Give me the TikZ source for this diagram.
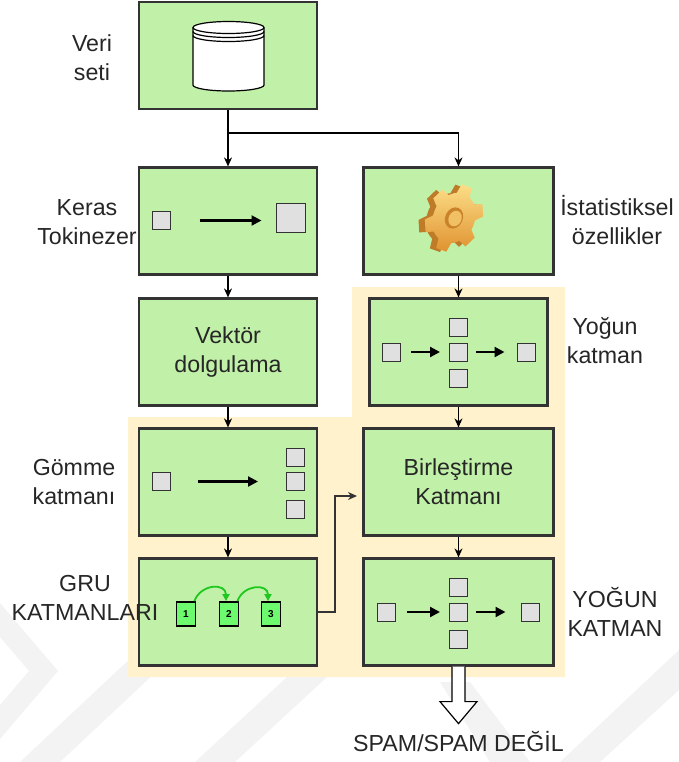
\documentclass[tikz,border=0pt]{standalone}
\usepackage{fontspec}
\setmainfont{Liberation Sans}
\usetikzlibrary{arrows.meta}

\definecolor{stagegreen}{RGB}{193,241,168}
\definecolor{panelorange}{RGB}{255,242,204}
\definecolor{cellgray}{RGB}{224,224,224}
\definecolor{grugreen}{RGB}{110,250,110}
\definecolor{hopgreen}{RGB}{30,200,30}
\definecolor{gearlight}{RGB}{252,222,135}
\definecolor{geardark}{RGB}{224,146,48}
\definecolor{inkgray}{RGB}{51,51,51}
\definecolor{markgray}{RGB}{243,243,243}

% gear outline, six teeth
\newcommand{\gearoutline}{(0:26) \foreach \a in {0,60,...,300} {-- (\a+7:26) -- (\a+15:35) -- (\a+37:35) -- (\a+45:26) -- (\a+60:26)} -- cycle}

\tikzset{
  stage/.style={draw=inkgray, line width=1.1pt, fill=stagegreen, minimum width=89pt, minimum height=53.5pt, inner sep=0pt},
  wide/.style={minimum width=95pt},
  cell/.style={draw=inkgray, line width=0.5pt, fill=cellgray, minimum size=9pt, inner sep=0pt},
  grucell/.style={draw=black, line width=0.9pt, fill=grugreen, minimum width=9.5pt, minimum height=12pt, inner sep=0pt, font=\fontsize{5}{5}\selectfont\bfseries},
  flow/.style={-{Stealth[length=4.5pt,width=4pt]}, line width=0.6pt},
  push/.style={-{Triangle[length=5pt,width=5pt]}, line width=1.1pt},
  hop/.style={-{Triangle[length=3.5pt,width=3.5pt]}, line width=0.9pt, draw=hopgreen},
  lbl/.style={align=center, text=black!85, font=\fontsize{11.6}{14.5}\selectfont}
}

\begin{document}
\begin{tikzpicture}[x=0.5pt,y=-0.5pt]
\useasboundingbox (0,0) rectangle (679,762);

% faint background mark
\fill[markgray] (0,603) -- (58,671) -- (0,739) -- (0,705) -- (29,671) -- (0,637) -- cycle;
\fill[markgray] (20,762) -- (150,640) -- (190,640) -- (60,762) -- cycle;
\fill[markgray] (195,762) -- (300,665) -- (340,665) -- (235,762) -- cycle;
\fill[markgray] (560,762) -- (679,650) -- (679,690) -- (600,762) -- cycle;
\fill[markgray] (440,682) -- (470,682) -- (530,762) -- (490,762) -- cycle;

% shaded panel behind the trainable layers
\fill[panelorange] (128,417) -- (352,417) -- (352,287) -- (565,287) -- (565,677) -- (128,677) -- cycle;

% stages
\node[stage] (veri) at (228,55.5) {};
\node[stage] (keras) at (228,221) {};
\node[stage, lbl] (vektor) at (228,352) {Vektör\\dolgulama};
\node[stage] (gomme) at (228,482) {};
\node[stage] (gru) at (228,612) {};
\node[stage, wide] (stat) at (458.5,221) {};
\node[stage] (yogun) at (458.5,352) {};
\node[stage, wide, lbl] (birles) at (458.5,482) {Birleştirme\\Katmanı};
\node[stage, wide] (cikis) at (458.5,612) {};

% side labels
\node[lbl] (veritxt) at (92,58) {Veri\\seti};
\node[lbl] (kerastxt) at (87,222) {Keras\\Tokinezer};
\node[lbl] (gommetxt) at (74,482) {Gömme\\katmanı};
\node[lbl] (grutxt) at (85,598) {GRU\\KATMANLARI};
\node[lbl] (stattxt) at (617,220) {İstatistiksel\\özellikler};
\node[lbl] (yoguntxt) at (605,341) {Yoğun\\katman};
\node[lbl] (cikistxt) at (615,612) {YOĞUN\\KATMAN};

% data set cylinder
\fill[white] (193,27.5) -- (193,85) arc(180:0:35.5 and 6) -- (264,27.5) -- cycle;
\draw[line width=0.6pt] (193,27.5) -- (193,85) arc(180:0:35.5 and 6) -- (264,27.5);
\draw[line width=0.6pt, fill=white] (228.5,27.5) ellipse (35.5 and 6);
\draw[line width=0.6pt] (193,31.5) arc(180:0:35.5 and 6);
\draw[line width=0.6pt] (193,35.5) arc(180:0:35.5 and 6);

% tokenizer
\node[cell] (tokin) at (161,220.5) {};
\node[cell, minimum size=14.5pt] (tokout) at (290.5,217.5) {};
\draw[push, shorten <=14.5pt, shorten >=7pt] (tokin) -- (tokin -| tokout.west);

% embedding
\node[cell] (embin) at (161.5,481.5) {};
\foreach \y [count=\i] in {457,481.5,509} \node[cell] (emb\i) at (295.5,\y) {};
\draw[push, shorten <=13.5pt, shorten >=14pt] (embin) -- (emb2);

% GRU cells
\foreach \x [count=\i] in {186,229,271} \node[grucell] (g\i) at (\x,614) {\i};
\draw[hop] ([xshift=-1pt]g1.north east) to[out=70,in=90,looseness=1.5] ([xshift=-1.5pt]g2.north);
\draw[hop] ([xshift=-1pt]g2.north east) to[out=70,in=90,looseness=1.5] ([xshift=-1.5pt]g3.north);

% dense layer after the statistics
\node[cell] (yin) at (391.5,352) {};
\foreach \y [count=\i] in {327,352,378} \node[cell] (ya\i) at (458.5,\y) {};
\node[cell] (yout) at (526,352) {};
\draw[push, shorten <=5pt, shorten >=4.5pt] (yin) -- (ya2);
\draw[push, shorten <=4pt, shorten >=6pt] (ya2) -- (yout);

% final dense layer
\node[cell] (cin) at (386.5,612) {};
\foreach \y [count=\i] in {587,612,639} \node[cell] (ca\i) at (458.5,\y) {};
\node[cell] (cout) at (530,612) {};
\draw[push, shorten <=5.5pt, shorten >=4.5pt] (cin) -- (ca2);
\draw[push, shorten <=4pt, shorten >=7.5pt] (ca2) -- (cout);

% statistics gear
\begin{scope}[shift={(454,218)}, rotate=-25, xscale=0.8]
  \fill[geardark!85!black, shift={(-7,3)}] \gearoutline;
  \shade[top color=gearlight, bottom color=geardark] \gearoutline;
  \fill[geardark!90!black] (0,0) circle (11);
  \fill[gearlight!60!geardark] (1.5,0) circle (8);
\end{scope}

% connectors
\coordinate (split) at (228,133);
\draw[line width=0.6pt] (veri) -- (split);
\draw[flow] (split) -- (keras);
\draw[flow] (split) -| (stat);
\draw[flow] (keras) -- (vektor);
\draw[flow] (vektor) -- (gomme);
\draw[flow] (gomme) -- (gru);
\draw[flow] (stat) -- (yogun);
\draw[flow] (yogun) -- (birles);
\draw[flow] (birles) -- (cikis);
\coordinate (turn) at (335,496);
\coordinate (mergein) at (357,496);
\draw[flow, draw=inkgray] (gru) -| (turn) -- (mergein);

% output
\draw[line width=0.6pt, fill=white] (cikis.south) ++(-6.5,0) -- ++(0,35) -- ++(-12,0) -- ++(18.5,22) -- ++(18.5,-22) -- ++(-12,0) -- ++(0,-35);
\node[lbl] (outtxt) at (458.5,742) {SPAM/SPAM DEĞİL};
\end{tikzpicture}
\end{document}
